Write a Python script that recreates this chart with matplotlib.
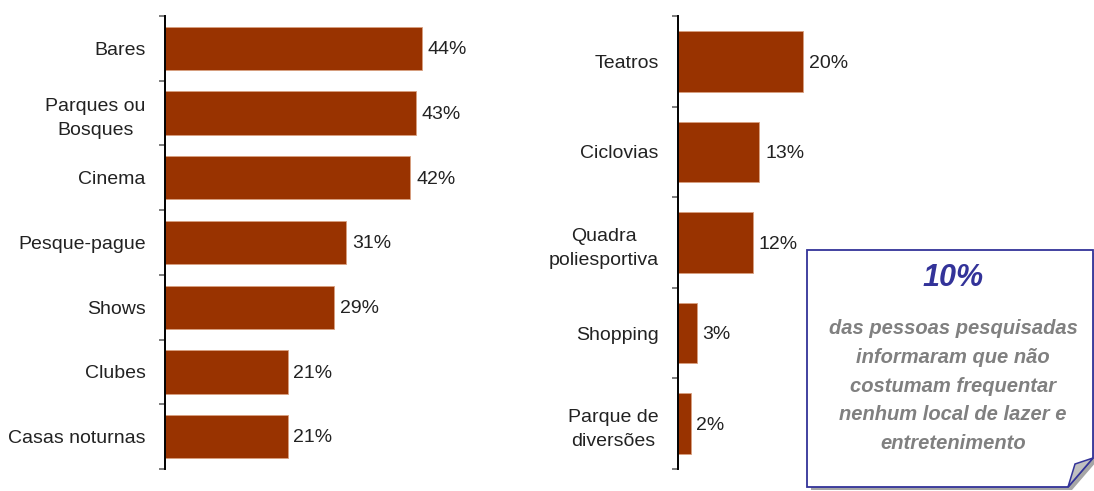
import matplotlib.pyplot as plt
from matplotlib.patches import Polygon
from matplotlib.ticker import FixedLocator

plt.rcParams['font.family'] = ['Liberation Sans', 'DejaVu Sans']

# Locais de lazer mais frequentados (%)
locais_a = ['Bares', 'Parques ou\nBosques', 'Cinema', 'Pesque-pague', 'Shows', 'Clubes', 'Casas noturnas']
valores_a = [44, 43, 42, 31, 29, 21, 21]

locais_b = ['Teatros', 'Ciclovias', 'Quadra\npoliesportiva', 'Shopping', 'Parque de\ndiversões']
valores_b = [20, 13, 12, 3, 2]

destaque_valor = '10%'
destaque_texto = ('das pessoas pesquisadas\ninformaram que não\ncostumam frequentar\n'
                  'nenhum local de lazer e\nentretenimento')

BAR_COLOR = '#993300'
W, H = 1094, 491

fig = plt.figure(figsize=(W / 100, H / 100), dpi=100)


def draw_panel(rect, labels, values, xmax):
    ax = fig.add_axes(rect)
    pos = list(range(len(labels)))
    ax.barh(pos, values, height=0.67, color=BAR_COLOR, edgecolor='#d9a080', linewidth=0.6)
    ax.set_ylim(len(labels) - 0.5, -0.5)
    ax.set_xlim(0, xmax)
    for spine in ['top', 'right', 'bottom']:
        ax.spines[spine].set_visible(False)
    ax.spines['left'].set_linewidth(1.4)
    ax.spines['left'].set_color('black')
    ax.set_xticks([])
    ax.set_yticks(pos)
    ax.set_yticklabels(labels, fontsize=14, color='#222222', multialignment='center', linespacing=1.55)
    ax.tick_params(axis='y', which='major', length=0, pad=14)
    ax.yaxis.set_minor_locator(FixedLocator([p - 0.5 for p in pos] + [pos[-1] + 0.5]))
    ax.tick_params(axis='y', which='minor', length=4, width=1.2, color='#666666', direction='out')
    for p, v in zip(pos, values):
        ax.text(v + xmax * 0.018, p + 0.02, f'{v}%', va='center', ha='left', fontsize=14, color='#222222')
    return ax


draw_panel([165 / W, 22 / H, 315 / W, 453 / H], locais_a, valores_a, 53.9)
draw_panel([678 / W, 22 / H, 322 / W, 453 / H], locais_b, valores_b, 51.5)

# Quadro de destaque com canto dobrado
ov = fig.add_axes([0, 0, 1, 1], zorder=5)
ov.set_xlim(0, W)
ov.set_ylim(H, 0)
ov.axis('off')

box = [(807, 250), (1093, 250), (1093, 458), (1068, 487), (807, 487)]
shadow = [(x + 4, y + 3) for x, y in box]
ov.add_patch(Polygon(shadow, closed=True, facecolor='#a6a6a6', edgecolor='none'))
ov.add_patch(Polygon(box, closed=True, facecolor='white', edgecolor='#333399', linewidth=1.3))
ov.add_patch(Polygon([(1068, 487), (1075, 464), (1093, 458)], closed=True,
                     facecolor='#c0c0c0', edgecolor='#333399', linewidth=1.1))

ov.text(953, 278, destaque_valor, ha='center', va='center', fontsize=22,
        fontweight='bold', fontstyle='italic', color='#333399')
ov.text(953, 386, destaque_texto, ha='center', va='center', fontsize=14.5,
        fontweight='bold', fontstyle='italic', color='#808080', linespacing=1.66)

fig.savefig('out.png', dpi=100)
